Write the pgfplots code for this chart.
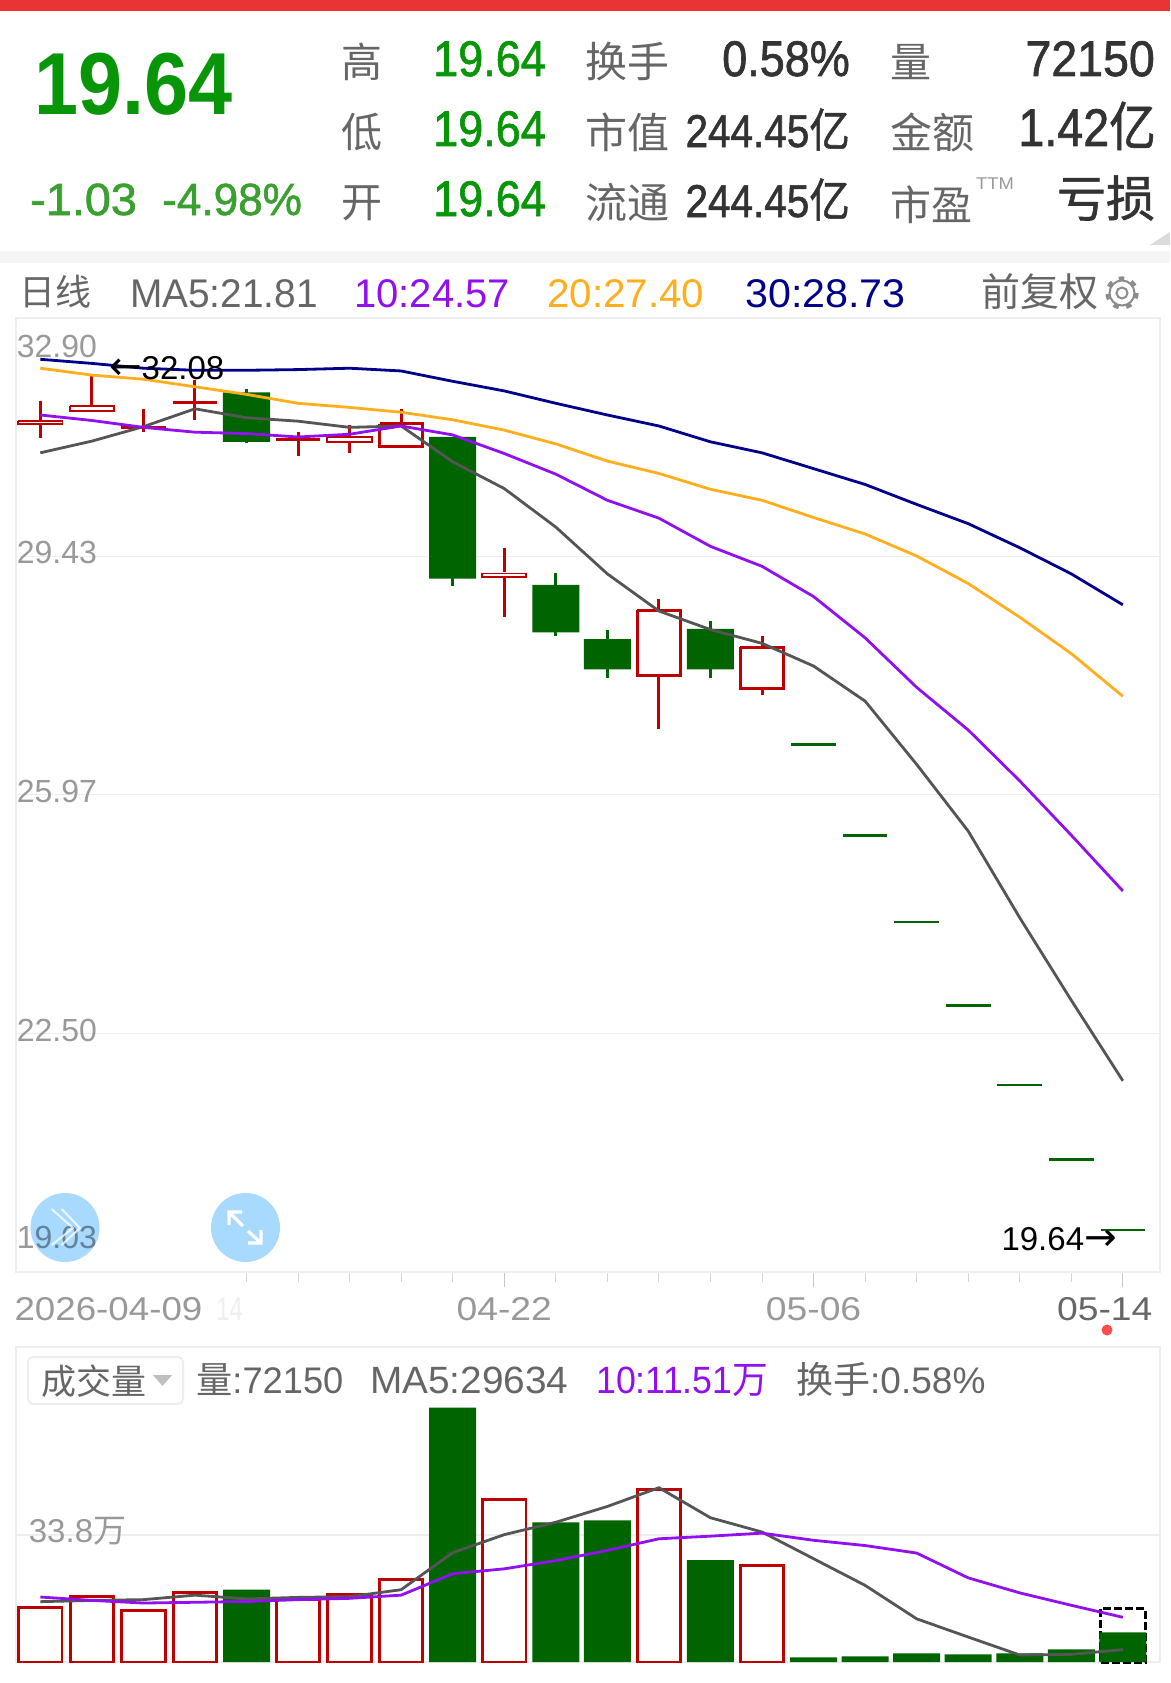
\documentclass[border=0pt]{standalone}
\usepackage{pgfplots}
\pgfplotsset{compat=1.18}
\usepackage{fontspec}
\setmainfont{Liberation Sans}
\newfontfamily\cjk{Noto Sans CJK SC}
\newfontfamily\cjkm[FakeBold=1.2]{Noto Sans CJK SC}
\newfontfamily\med[FakeBold=1.4]{Liberation Sans}
\newfontfamily\djv{DejaVu Sans}
\definecolor{bigg}{RGB}{8,150,8}
\definecolor{lightg}{RGB}{58,160,48}
\definecolor{candg}{RGB}{0,100,0}
\definecolor{candr}{RGB}{190,0,0}
\definecolor{mapur}{RGB}{146,16,240}
\definecolor{maora}{RGB}{255,174,30}
\definecolor{manav}{RGB}{0,0,139}
\definecolor{magra}{RGB}{85,85,85}
\definecolor{tickg}{RGB}{153,153,153}
\definecolor{txtg}{RGB}{102,102,102}
\definecolor{txtd}{RGB}{51,51,51}
\definecolor{panel}{RGB}{238,238,238}
\definecolor{topred}{RGB}{232,52,52}
\definecolor{bubble}{RGB}{168,218,255}
\newcommand\T[7]{\node[anchor=#1,inner sep=0pt,text=#4,xscale=#6] at (#2,#3) {\fontsize{#5}{#5}\selectfont #7};}
\begin{document}
\begin{tikzpicture}
\path[use as bounding box,fill=white] (0pt,0pt) rectangle (1170pt,-1683pt);

% price axis
\begin{axis}[
  at={(16pt,-1272pt)},anchor=south west,
  scale only axis,width=1144pt,height=954pt,
  xmin=-0.4714,xmax=21.72,ymin=19.03,ymax=32.90,
  clip=false,unbounded coords=jump,
  axis line style={draw=panel,line width=2pt},
  xtick pos=bottom,ytick pos=left,tick align=outside,
  ytick={19.03,22.50,25.97,29.43,32.90},
  yticklabels={\raisebox{24pt}{19.03},\raisebox{-8pt}{22.50},\raisebox{-8pt}{25.97},\raisebox{-7pt}{29.43},\raisebox{-39pt}{32.90}},
  ymajorgrids,grid style={draw=panel,line width=1.3pt},
  ytick style={draw=none},
  y tick label style={anchor=base west,inner sep=0pt,xshift=15.7pt,text=tickg,font=\fontsize{32}{32}\selectfont},
  yticklabel shift=0pt,
  xtick={9,15,21},
  xticklabels={04-22,05-06,\hspace*{-32pt}\textcolor{txtg}{05-14}},
  minor xtick={4,5,6,7,8,10,11,12,13,14,16,17,18,19,20},
  major tick length=15pt,minor tick length=10pt,
  xtick style={draw=black!22,line width=1pt},
  minor x tick style={draw=black!16,line width=1pt},
  x tick label style={anchor=base,inner sep=0pt,yshift=-33pt,text=tickg,xscale=1.13,font=\fontsize{33}{33}\selectfont},
  extra x ticks={0},
  extra x tick labels={2026-04-09},
  extra x tick style={major tick length=0pt,tick style={draw=none},x tick label style={anchor=base west,xshift=-23pt,yshift=-15pt,xscale=.985}},
]
% green bodies
\addplot[draw=none,fill=candg] coordinates {
 (3.544,31.82)(4.456,31.82)(4.456,31.10)(3.544,31.10)(3.544,31.82)(3.544,nan)
 (7.544,31.17)(8.456,31.17)(8.456,29.11)(7.544,29.11)(7.544,31.17)(7.544,nan)
 (9.544,29.02)(10.456,29.02)(10.456,28.33)(9.544,28.33)(9.544,29.02)(9.544,nan)
 (10.544,28.23)(11.456,28.23)(11.456,27.79)(10.544,27.79)(10.544,28.23)(10.544,nan)
 (12.544,28.38)(13.456,28.38)(13.456,27.79)(12.544,27.79)(12.544,28.38)};
% green wicks
\addplot[candg,line width=3pt] coordinates {
 (4,31.87)(4,31.08)(4,nan)
 (8,31.17)(8,29.01)(8,nan)
 (10,29.19)(10,28.28)(10,nan)
 (11,28.36)(11,27.66)(11,nan)
 (13,28.49)(13,27.66)};
% limit-down days
\addplot[candg,line width=2.8pt] coordinates {
 (14.567,26.70)(15.433,26.70)(15,nan)
 (15.567,25.38)(16.433,25.38)(16,nan)
 (16.567,24.12)(17.433,24.12)(17,nan)
 (17.567,22.90)(18.433,22.90)(18,nan)
 (18.567,21.75)(19.433,21.75)(19,nan)
 (19.567,20.67)(20.433,20.67)(20,nan)
 (20.567,19.64)(21.433,19.64)};
% red hollow bodies
\addplot[candr,line width=2.9pt,line join=miter] coordinates {
 (6.58,31.36)(7.42,31.36)(7.42,31.03)(6.58,31.03)(6.58,31.36)(7,nan)
 (11.58,28.65)(12.42,28.65)(12.42,27.70)(11.58,27.70)(11.58,28.65)(12,nan)
 (13.58,28.11)(14.42,28.11)(14.42,27.52)(13.58,27.52)(13.58,28.11)};
\addplot[candr,line width=1.9pt,line join=miter] coordinates {
 (-0.43,31.406)(0.43,31.406)(0.43,31.354)(-0.43,31.354)(-0.43,31.406)(0,nan)
 (0.57,31.616)(1.43,31.616)(1.43,31.544)(0.57,31.544)(0.57,31.616)(1,nan)
 (5.57,31.166)(6.43,31.166)(6.43,31.094)(5.57,31.094)(5.57,31.166)(6,nan)
 (8.57,29.186)(9.43,29.186)(9.43,29.134)(8.57,29.134)(8.57,29.186)};
% red flat bodies
\addplot[candr,line width=2.8pt] coordinates {
 (1.567,31.31)(2.433,31.31)(2,nan)
 (2.567,31.67)(3.433,31.67)(3,nan)
 (4.567,31.13)(5.433,31.13)};
% red wicks
\addplot[candr,line width=3pt] coordinates {
 (0,31.70)(0,31.42)(0,nan)
 (0,31.34)(0,31.16)(0,nan)
 (1,32.08)(1,31.63)(1,nan)
 (2,31.57)(2,31.24)(2,nan)
 (3,32.00)(3,31.42)(3,nan)
 (5,31.24)(5,30.90)(5,nan)
 (6,31.34)(6,31.18)(6,nan)
 (6,31.08)(6,30.94)(6,nan)
 (7,31.57)(7,31.38)(7,nan)
 (9,29.55)(9,29.20)(9,nan)
 (9,29.12)(9,28.55)(9,nan)
 (12,28.82)(12,28.67)(12,nan)
 (12,27.68)(12,26.93)(12,nan)
 (14,28.27)(14,28.13)(14,nan)
 (14,27.50)(14,27.42)};
% moving averages
\addplot[manav,line width=2.8pt] coordinates {(0,32.30)(1,32.24)(2,32.17)(3,32.14)(4,32.14)(5,32.15)(6,32.17)(7,32.13)(8,31.98)(9,31.84)(10,31.66)(11,31.49)(12,31.33)(13,31.10)(14,30.94)(15,30.71)(16,30.48)(17,30.19)(18,29.91)(19,29.56)(20,29.18)(21,28.73)};
\addplot[maora,line width=2.8pt] coordinates {(0,32.17)(1,32.07)(2,32.01)(3,31.90)(4,31.79)(5,31.66)(6,31.60)(7,31.53)(8,31.42)(9,31.27)(10,31.07)(11,30.82)(12,30.64)(13,30.41)(14,30.25)(15,30.00)(16,29.76)(17,29.44)(18,29.04)(19,28.55)(20,28.02)(21,27.40)};
\addplot[magra,line width=2.8pt] coordinates {(0,30.94)(1,31.11)(2,31.32)(3,31.58)(4,31.45)(5,31.40)(6,31.31)(7,31.33)(8,30.81)(9,30.42)(10,29.86)(11,29.18)(12,28.64)(13,28.37)(14,28.17)(15,27.84)(16,27.33)(17,26.41)(18,25.44)(19,24.18)(20,22.98)(21,21.81)};
\addplot[mapur,line width=2.8pt] coordinates {(0,31.49)(1,31.41)(2,31.31)(3,31.24)(4,31.22)(5,31.17)(6,31.21)(7,31.33)(8,31.20)(9,30.93)(10,30.63)(11,30.25)(12,29.99)(13,29.58)(14,29.29)(15,28.85)(16,28.25)(17,27.53)(18,26.91)(19,26.17)(20,25.38)(21,24.57)};
\node[anchor=west,inner sep=0pt,text=black,xscale=1] at (axis cs:1.33,32.17) {\fontsize{33}{33}\selectfont {\fontsize{39}{39}\selectfont\djv ←}32.08};
\node[anchor=east,inner sep=0pt,text=black,xscale=1] at (axis cs:20.886,19.51) {\fontsize{33}{33}\selectfont 19.64{\fontsize{39}{39}\selectfont\djv →}};
\end{axis}

% volume axis
\begin{axis}[
  at={(16pt,-1662pt)},anchor=south west,
  scale only axis,width=1144pt,height=315pt,
  xmin=-0.4714,xmax=21.72,ymin=0,ymax=83.84,
  clip=false,
  axis line style={draw=panel,line width=2pt},
  xtick=\empty,ytick pos=left,
  ytick={33.8},yticklabels={\raisebox{-7.7pt}{33.8{\cjk 万}}},
  ymajorgrids,grid style={draw=panel,line width=1.3pt},
  ytick style={draw=none},major tick length=0pt,
  y tick label style={anchor=base west,inner sep=0pt,xshift=12.7pt,text=tickg,font=\fontsize{33}{33}\selectfont},
  yticklabel shift=0pt,
]
\addplot[ybar,bar shift=0pt,bar width=44.5pt,draw=black,line width=3pt,dash pattern=on 8pt off 3pt,fill=none] coordinates {(21,14.25)};
\addplot[ybar,bar shift=0pt,bar width=47pt,draw=none,fill=candg] coordinates {(4,19.3)(8,67.7)(10,37.2)(11,37.7)(13,27.1)(15,1.24)(16,1.5)(17,2.3)(18,2.04)(19,2.3)(20,3.37)(21,7.9)};
\addplot[ybar,bar shift=0pt,bar width=43.4pt,draw=candr,line width=2.9pt,fill=none] coordinates {(0,14.45)(1,17.35)(2,13.65)(3,18.45)(5,16.55)(6,18.05)(7,21.95)(9,43.35)(12,45.95)(14,25.75)};
\addplot[magra,line width=2.8pt] coordinates {(0,16.06)(1,16.4)(2,16.6)(3,17.8)(4,16.8)(5,17.2)(6,17.4)(7,19.25)(8,29.1)(9,33.9)(10,37.2)(11,41.4)(12,46.4)(13,38.4)(14,34.6)(15,27.5)(16,20.4)(17,11.5)(18,6.65)(19,1.86)(20,2.04)(21,3.3)};
\addplot[mapur,line width=2.8pt] coordinates {(0,17.3)(1,16.4)(2,15.7)(3,15.9)(4,16.1)(5,16.6)(6,16.95)(7,17.8)(8,23.5)(9,24.8)(10,27)(11,29.7)(12,32.8)(13,33.5)(14,34.3)(15,32.4)(16,31)(17,29)(18,22.4)(19,18.4)(20,15.1)(21,11.9)};
\end{axis}

\begin{scope}[x=1pt,y=-1pt]
% top furniture
\fill[topred] (0,0) rectangle (1170,11);
\fill[black!4] (0,251) rectangle (1170,263);
\fill[black!14] (1170,232) -- (1170,245) -- (1150,245) -- cycle;
% header
\T{base west}{34}{115}{bigg}{88}{.9}{\bfseries 19.64}
\T{base west}{30}{215}{lightg}{45}{1.04}{\med -1.03}
\T{base west}{162}{215}{lightg}{45}{.98}{\med -4.98\%}
\T{center}{362}{62}{txtg}{41}{1}{\cjk 高}
\T{center}{362}{132}{txtg}{41}{1}{\cjk 低}
\T{center}{362}{203}{txtg}{41}{1}{\cjk 开}
\T{base west}{433}{76}{bigg}{50}{.9}{\med 19.64}
\T{base west}{433}{146}{bigg}{50}{.9}{\med 19.64}
\T{base west}{433}{216}{bigg}{50}{.9}{\med 19.64}
\T{center}{627}{62}{txtg}{42}{1}{\cjk 换手}
\T{center}{627}{132}{txtg}{42}{1}{\cjk 市值}
\T{center}{627}{202}{txtg}{42}{1}{\cjk 流通}
\T{base east}{850}{76}{txtd}{50}{.9}{\med 0.58\%}
\T{base east}{850}{147}{txtd}{46}{.88}{\med 244.45{\cjkm 亿}}
\T{base east}{850}{217}{txtd}{46}{.88}{\med 244.45{\cjkm 亿}}
\T{center}{911}{62}{txtg}{41}{1}{\cjk 量}
\T{center}{932}{132}{txtg}{42}{1}{\cjk 金额}
\T{center}{931}{205}{txtg}{41}{1}{\cjk 市盈}
\T{center}{995}{184}{tickg}{17}{1.08}{TTM}
\T{base east}{1155}{76}{txtd}{50}{.93}{\med 72150}
\T{base east}{1156}{146}{txtd}{53}{.88}{\med 1.42{\cjkm 亿}}
\T{center}{1106}{198}{txtd}{49}{1}{\cjkm 亏损}
% MA row
\T{center}{55}{292}{txtg}{36}{1}{\cjk 日线}
\T{base west}{130}{307}{txtg}{40}{.97}{MA5:21.81}
\T{base west}{354}{307}{mapur}{40}{1}{10:24.57}
\T{base west}{547}{307}{maora}{40}{1.01}{20:27.40}
\T{base west}{745}{307}{manav}{40}{1.03}{30:28.73}
\T{center}{1040}{292}{txtg}{39}{1}{\cjk 前复权}
\draw[black!45,line width=2pt] (1122,293) circle (12.5);
\draw[black!45,line width=2pt] (1122,293) circle (5.5);
\draw[black!45,line width=4pt,dash pattern=on 5.5pt off 7.6pt] (1122,293) circle (14.6);
% faint label behind the first date
\T{base east}{243}{1320}{panel}{33}{.72}{14}
% volume header
\draw[panel,line width=2pt,rounded corners=5pt] (28,1357) rectangle (183,1404);
\T{center}{94}{1381}{txtg}{35}{1}{\cjk 成交量}
\fill[black!25] (153,1375) -- (172,1375) -- (162.5,1386) -- cycle;
\T{base west}{196}{1393}{txtg}{37}{.98}{{\cjk 量}:72150}
\T{base west}{370}{1393}{txtg}{38}{1.02}{MA5:29634}
\T{base west}{596}{1393}{mapur}{38}{.94}{10:11.51{\cjk 万}}
\T{base west}{796}{1393}{txtg}{37}{1}{{\cjk 换手}:0.58\%}
% red dot
\fill[red!70!white] (1107,1330) circle (5.5);
% floating buttons
\begin{scope}[blend mode=multiply]
\fill[bubble] (65,1227.5) circle (34.5);
\end{scope}
\fill[bubble] (245.5,1227.5) circle (34.5);
\draw[white,line width=2pt,opacity=.75] (51.7,1209)--(73,1228)--(51.7,1245);
\draw[white,line width=2pt,opacity=.75] (61.7,1209)--(80,1228)--(61.7,1245);
\draw[white,line width=3.2pt] (229,1212)--(243,1226) (229,1225)--(229,1212)--(242,1212);
\draw[white,line width=3.2pt] (248,1231)--(261,1243) (261,1230)--(261,1243)--(248,1243);
\end{scope}
\end{tikzpicture}
\end{document}
